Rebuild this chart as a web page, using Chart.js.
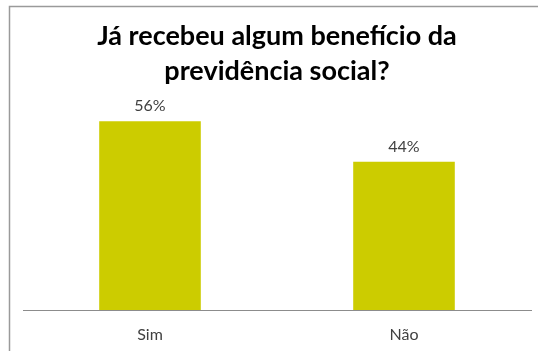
<!DOCTYPE html>
<html>
<head>
<meta charset="utf-8">
<script src="https://cdn.jsdelivr.net/npm/chart.js@4/dist/chart.umd.min.js"></script>
<style>
  html, body { margin: 0; padding: 0; background: #fff; }
  #chart { display: block; }
</style>
</head>
<body>
<canvas id="chart" width="538" height="351"></canvas>
<script>
const categories = ["Sim", "Não"];
const percentValues = [56, 44];
const titleLines = ["Já recebeu algum benefício da", "previdência social?"];

// moldura cinza (só topo e esquerda aparecem)
const framePlugin = {
    id: "frame",
    beforeDraw(chart) {
        const ctx = chart.ctx;
        ctx.save();
        ctx.strokeStyle = "#9a9a9a";
        ctx.lineWidth = 1.5;
        ctx.beginPath();
        ctx.moveTo(9.5, chart.height);
        ctx.lineTo(9.5, 6.5);
        ctx.lineTo(chart.width, 6.5);
        ctx.stroke();
        ctx.restore();
    }
};

// rótulo de percentual acima de cada barra
const valueLabels = {
    id: "valueLabels",
    afterDatasetsDraw(chart) {
        const ctx = chart.ctx;
        const meta = chart.getDatasetMeta(0);
        ctx.save();
        ctx.font = "16px Lato";
        ctx.fillStyle = "#404040";
        ctx.textAlign = "center";
        ctx.textBaseline = "middle";
        meta.data.forEach((bar, i) => {
            ctx.fillText(percentValues[i] + "%", bar.x, bar.y - 15);
        });
        ctx.restore();
    }
};

const ctx = document.getElementById("chart").getContext("2d");
new Chart(ctx, {
    type: "bar",
    data: {
        labels: categories,
        datasets: [
            {
                data: percentValues,
                backgroundColor: "rgb(204, 204, 0)",
                borderWidth: 0,
                barPercentage: 0.4,
                categoryPercentage: 1,
            },
        ],
    },
    options: {
        responsive: false,
        animation: false,
        layout: {
            padding: { left: 23, right: 7, top: 0, bottom: 0 },
        },
        plugins: {
            legend: { display: false },
            tooltip: { enabled: false },
            title: {
                display: true,
                text: titleLines,
                color: "#000",
                font: { family: "Lato", size: 27, weight: "bold", lineHeight: 35 / 27 },
                padding: { top: 19, bottom: 12 },
            },
        },
        scales: {
            x: {
                grid: { display: false, drawTicks: false },
                border: { display: true, color: "#8c8c8c", width: 1 },
                ticks: {
                    color: "#404040",
                    font: { family: "Lato", size: 16, lineHeight: 1 },
                    padding: 17,
                },
                // altura fixa da faixa do eixo x
                afterFit(scale) {
                    scale.height = 41;
                },
            },
            y: {
                display: false,
                min: 0,
                max: 62,
            },
        },
    },
    plugins: [framePlugin, valueLabels],
});
</script>
</body>
</html>
